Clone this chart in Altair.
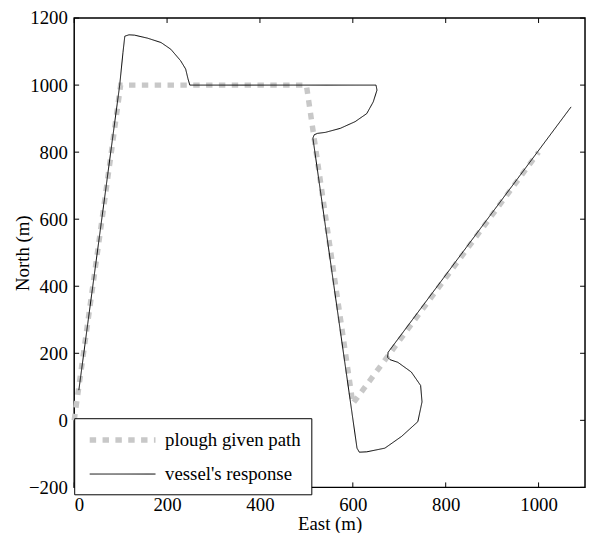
import altair as alt
import pandas as pd

# ---- data ----
path_east = [0, 100, 500, 600, 1000]
path_north = [0, 1000, 1000, 50, 800]

resp_east = [10, 98, 105, 109, 118, 130, 158, 187, 208, 229, 240, 245, 249,
             650, 652, 644, 630, 605, 573, 541, 524, 517, 514,
             609, 614, 630, 669, 705, 740, 749, 746, 726, 697, 680, 675, 676, 1070]
resp_north = [90, 1000, 1097, 1146, 1150, 1149, 1140, 1127, 1107, 1073, 1048, 1019, 1000,
              1000, 985, 950, 915, 891, 871, 859, 856, 852, 842,
              -83, -95, -94, -83, -48, -4, 55, 104, 144, 173, 181, 188, 203, 935]

series_names = ["plough given path", "vessel's response"]
series_colors = ["#c8c8c8", "#000000"]
series_widths = [5.5, 1]
series_dashes = [[6.5, 6.5], [1, 0]]

x_ticks = [0, 200, 400, 600, 800, 1000]
y_ticks = [-200, 0, 200, 400, 600, 800, 1000, 1200]

W, H = 517, 475
FONT = "Liberation Serif"
FS = 19

rows = []
for i, (e, n) in enumerate(zip(path_east, path_north)):
    rows.append({"series": series_names[0], "idx": i, "east": e, "north": n})
for i, (e, n) in enumerate(zip(resp_east, resp_north)):
    rows.append({"series": series_names[1], "idx": i, "east": e, "north": n})
df = pd.DataFrame(rows)

xscale = alt.Scale(domain=[0, 1100], nice=False, zero=False)
yscale = alt.Scale(domain=[-200, 1200], nice=False, zero=False)

leg = alt.Legend(title=None, orient="none", legendX=0, legendY=405,
                 symbolType="M-3.7,0L3.7,0", symbolSize=324, labelFont=FONT,
                 labelFontSize=FS, labelColor="black", fillColor="white",
                 strokeColor="black", padding=10, rowPadding=14,
                 cornerRadius=0, symbolOffset=27, labelOffset=31, labelLimit=400)

lines = alt.Chart(df).mark_line(strokeCap="butt").encode(
    x=alt.X("east:Q", scale=xscale,
            axis=alt.Axis(values=x_ticks, title="East (m)", ticks=False, domain=False,
                          grid=False, labelPadding=8, titlePadding=1, format="d")),
    y=alt.Y("north:Q", scale=yscale,
            axis=alt.Axis(values=y_ticks, title="North (m)", ticks=False, domain=False,
                          grid=False, labelPadding=7, titlePadding=-4, format="d")),
    color=alt.Color("series:N", scale=alt.Scale(domain=series_names, range=series_colors), legend=leg),
    strokeWidth=alt.StrokeWidth("series:N", scale=alt.Scale(domain=series_names, range=series_widths), legend=leg),
    strokeDash=alt.StrokeDash("series:N", scale=alt.Scale(domain=series_names, range=series_dashes), legend=leg),
    detail="series:N",
    order="idx:Q",
)

xt = pd.DataFrame({"v": x_ticks})
yt = pd.DataFrame({"v": y_ticks})

bottom_ticks = alt.Chart(xt).mark_rule(color="black", strokeWidth=1).encode(
    x=alt.X("v:Q", scale=xscale), y=alt.value(H), y2=alt.value(H - 5))
top_ticks = alt.Chart(xt).mark_rule(color="black", strokeWidth=1).encode(
    x=alt.X("v:Q", scale=xscale), y=alt.value(0), y2=alt.value(5))
left_ticks = alt.Chart(yt).mark_rule(color="black", strokeWidth=1).encode(
    y=alt.Y("v:Q", scale=yscale), x=alt.value(0), x2=alt.value(5))
right_ticks = alt.Chart(yt).mark_rule(color="black", strokeWidth=1).encode(
    y=alt.Y("v:Q", scale=yscale), x=alt.value(W), x2=alt.value(W - 5))

chart = alt.layer(lines, bottom_ticks, top_ticks, left_ticks, right_ticks).properties(
    width=W, height=H,
    background="white",
    autosize=alt.AutoSizeParams(type="none"),
    padding={"left": 67, "top": 7, "right": 1, "bottom": 43},
).configure_view(stroke="black", strokeWidth=1.5).configure_axis(
    labelFont=FONT, labelFontSize=FS, labelColor="black",
    titleFont=FONT, titleFontSize=FS, titleFontWeight="normal", titleColor="black",
)

chart.save("out.html", embed_options={"renderer": "svg", "actions": False})
